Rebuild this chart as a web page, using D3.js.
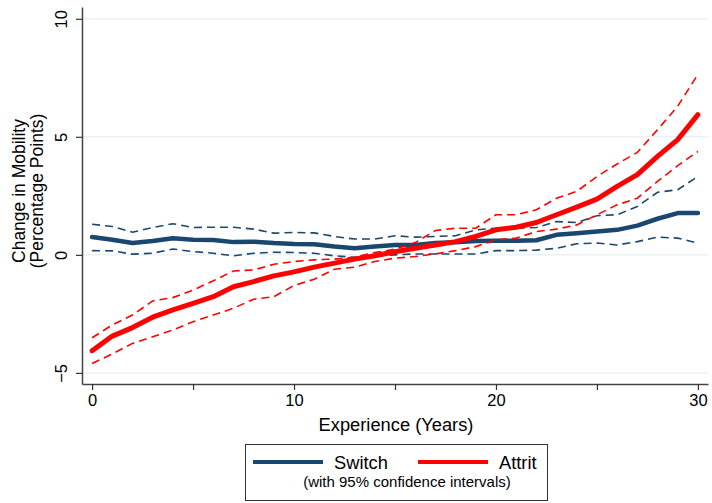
<!DOCTYPE html>
<html>
<head>
<meta charset="utf-8">
<script src="https://cdn.jsdelivr.net/npm/d3@7"></script>
<style>
  html, body { margin: 0; padding: 0; background: #fff; }
  svg { display: block; font-family: "Liberation Sans", Arial, Helvetica, sans-serif; }
</style>
</head>
<body>
<svg id="chart" width="712" height="503"></svg>
<script>
// Years of experience
const years = d3.range(0, 31);

// Switch: point estimate and 95% CI bounds (percentage points)
const switchEst = [0.76, 0.64, 0.50, 0.59, 0.70, 0.64, 0.63, 0.54, 0.56, 0.50, 0.46,
                   0.45, 0.35, 0.28, 0.35, 0.42, 0.42, 0.50, 0.53, 0.59, 0.60,
                   0.60, 0.62, 0.85, 0.92, 0.99, 1.06, 1.24, 1.53, 1.77, 1.77];
const switchHi  = [1.30, 1.20, 0.96, 1.16, 1.32, 1.16, 1.17, 1.17, 1.09, 0.92, 0.95,
                   0.93, 0.78, 0.67, 0.67, 0.81, 0.75, 0.78, 0.81, 1.06, 1.13,
                   1.13, 1.16, 1.41, 1.37, 1.66, 1.70, 2.05, 2.65, 2.76, 3.32];
const switchLo  = [0.18, 0.17, 0.03, 0.07, 0.25, 0.14, 0.07, -0.04, 0.07, 0.11, 0.10,
                   0.07, -0.04, -0.10, -0.04, 0.00, 0.04, 0.04, 0.04, 0.04, 0.18,
                   0.18, 0.20, 0.28, 0.47, 0.50, 0.42, 0.56, 0.75, 0.71, 0.50];

// Attrit: point estimate and 95% CI bounds (percentage points)
const attritEst = [-4.06, -3.44, -3.08, -2.64, -2.33, -2.05, -1.77, -1.35, -1.13, -0.89, -0.72,
                   -0.52, -0.35, -0.18, -0.04, 0.13, 0.28, 0.42, 0.56, 0.78, 1.06,
                   1.17, 1.37, 1.70, 2.02, 2.36, 2.90, 3.40, 4.17, 4.88, 5.94];
const attritHi  = [-3.51, -2.97, -2.55, -1.95, -1.81, -1.49, -1.10, -0.68, -0.64, -0.40, -0.28,
                   -0.21, -0.18, -0.10, 0.10, 0.24, 0.52, 1.03, 1.13, 1.13, 1.70,
                   1.70, 1.91, 2.40, 2.69, 3.32, 3.85, 4.34, 5.30, 6.30, 7.64];
const attritLo  = [-4.60, -4.20, -3.75, -3.47, -3.18, -2.83, -2.55, -2.26, -1.88, -1.77, -1.30,
                   -1.03, -0.61, -0.52, -0.28, -0.14, -0.07, 0.04, 0.18, 0.35, 0.64,
                   0.71, 0.99, 1.09, 1.27, 1.70, 2.12, 2.40, 3.11, 3.78, 4.38];

const yTicks = [-5, 0, 5, 10];
const xTicks = [0, 5, 10, 15, 20, 25, 30];
const xLabels = [0, 10, 20, 30];

const navy = "#1a476f";
const red = "#ff0000";

const svg = d3.select("#chart");

const x = d3.scaleLinear().domain([-0.5, 30.5]).range([82, 708]);
const y = d3.scaleLinear().domain([-5.47, 10.5]).range([384, 7]);

// horizontal grid
svg.append("g")
  .selectAll("line")
  .data(yTicks)
  .join("line")
  .attr("x1", x.range()[0])
  .attr("x2", x.range()[1])
  .attr("y1", d => y(d))
  .attr("y2", d => y(d))
  .attr("stroke", "#eaf2f3")
  .attr("stroke-width", 1.5);

// y axis
const yAxis = svg.append("g")
  .attr("transform", `translate(${x.range()[0]},0)`)
  .call(d3.axisLeft(y).tickValues(yTicks).tickSize(6).tickPadding(8).tickSizeOuter(0));
yAxis.select(".domain").attr("stroke", "#444").attr("stroke-width", 1.5);
yAxis.selectAll(".tick line").attr("stroke", "#333").attr("stroke-width", 1.2);
yAxis.selectAll(".tick text")
  .attr("font-size", 16.5)
  .attr("fill", "#000")
  .attr("text-anchor", "middle")
  .attr("x", 0)
  .attr("dy", 0)
  .attr("transform", "translate(-15,0) rotate(-90)");

// x axis
const xAxis = svg.append("g")
  .attr("transform", `translate(0,${y.range()[0]})`)
  .call(d3.axisBottom(x).tickValues(xTicks).tickSize(6).tickPadding(4).tickSizeOuter(0)
    .tickFormat(d => xLabels.includes(d) ? d : ""));
xAxis.select(".domain").attr("stroke", "#444").attr("stroke-width", 1.5);
xAxis.selectAll(".tick line").attr("stroke", "#333").attr("stroke-width", 1.2);
xAxis.selectAll(".tick text").attr("font-size", 16.5).attr("fill", "#000");

// axis titles
svg.append("text")
  .attr("x", 396).attr("y", 430.5)
  .attr("text-anchor", "middle")
  .attr("font-size", 18.3)
  .text("Experience (Years)");

const yTitle = svg.append("text")
  .attr("transform", "translate(0,191) rotate(-90)")
  .attr("text-anchor", "middle")
  .attr("font-size", 17.5);
yTitle.append("tspan").attr("x", 0).attr("y", 24.5).text("Change in Mobility");
yTitle.append("tspan").attr("x", 0).attr("y", 43).text("(Percentage Points)");

const line = d3.line().x((d, i) => x(years[i])).y(d => y(d));

const plot = svg.append("g").attr("fill", "none");

function dashed(vals, color) {
  plot.append("path")
    .attr("d", line(vals))
    .attr("stroke", color)
    .attr("stroke-width", 1.6)
    .attr("stroke-dasharray", "8,5");
}
function solid(vals, color, w) {
  plot.append("path")
    .attr("d", line(vals))
    .attr("stroke", color)
    .attr("stroke-width", w)
    .attr("stroke-linejoin", "round")
    .attr("stroke-linecap", "round");
}

solid(switchEst, navy, 4.5);
dashed(switchHi, navy);
dashed(switchLo, navy);
solid(attritEst, red, 5);
dashed(attritHi, red);
dashed(attritLo, red);

// legend
const lg = svg.append("g");
lg.append("rect")
  .attr("x", 245.5).attr("y", 444.5)
  .attr("width", 302).attr("height", 56)
  .attr("fill", "#fff")
  .attr("stroke", "#333")
  .attr("stroke-width", 1);

const legendItems = [
  { label: "Switch", color: navy, x0: 253 },
  { label: "Attrit", color: red, x0: 418 }
];
legendItems.forEach(it => {
  lg.append("line")
    .attr("x1", it.x0).attr("x2", it.x0 + 70)
    .attr("y1", 462).attr("y2", 462)
    .attr("stroke", it.color)
    .attr("stroke-width", 4);
  lg.append("text")
    .attr("x", it.x0 + 81).attr("y", 469)
    .attr("font-size", 18.3)
    .text(it.label);
});
lg.append("text")
  .attr("x", 407).attr("y", 487)
  .attr("text-anchor", "middle")
  .attr("font-size", 15)
  .text("(with 95% confidence intervals)");
</script>
</body>
</html>
